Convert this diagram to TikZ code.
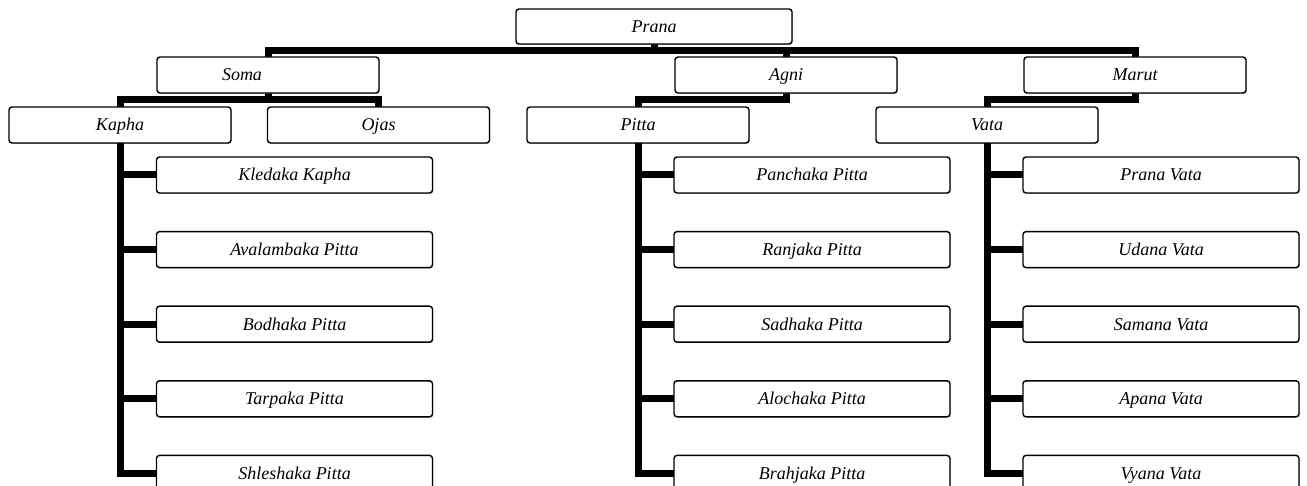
\documentclass[tikz,border=0pt]{standalone}
\usepackage{fontspec}
\setmainfont{Liberation Serif}
\usetikzlibrary{calc,shadows}
\begin{document}
\begin{tikzpicture}[x=1pt,y=-1pt,
                    box/.style={draw,rounded corners=3pt,line width=1.4pt,fill=white,
                                drop shadow={shadow xshift=0.8pt,shadow yshift=-0.8pt,fill=black!45,opacity=0.6},
                                inner sep=0pt,minimum height=36pt,text height=14pt,text depth=2pt,
                                font=\fontsize{18}{20}\selectfont\itshape},
                    main node/.style={box,minimum width=222pt},
                    leaf node/.style={box,minimum width=276pt},
                    link/.style={line width=7pt,line join=miter},
                    elbow/.style={to path={(\tikztostart) |- ($(\tikztostart)!0.5!(\tikztotarget)$) -| (\tikztotarget)}}
                   ]
  \useasboundingbox (0,0) rectangle (1307,486);
  \clip (0,0) rectangle (1307,486);

  % connectors first, boxes on top
  \coordinate (prana s) at (654,44);
  \coordinate (soma n) at (268,57);
  \coordinate (soma s) at (268,93);
  \coordinate (agni n) at (786,57);
  \coordinate (agni s) at (786,93);
  \coordinate (marut n) at (1135,57);
  \coordinate (marut s) at (1135,93);
  \coordinate (kapha n) at (120,107);
  \coordinate (kapha s) at (120,143);
  \coordinate (ojas n) at (378.5,107);
  \coordinate (pitta n) at (638,107);
  \coordinate (pitta s) at (638,143);
  \coordinate (vata n) at (987,107);
  \coordinate (vata s) at (987,143);

  \path[link]
   (prana s) edge [elbow] (soma n)
   (prana s) edge [elbow] (agni n)
   (prana s) edge [elbow] (marut n)
   (soma s) edge [elbow] (kapha n)
   (soma s) edge [elbow] (ojas n)
   (agni s) edge [elbow] (pitta n)
   (marut s) edge [elbow] (vata n);

  \node[box,minimum width=276pt,minimum height=35pt] (prana) at (654,26.5) {Prana};
  \node[main node] (soma) at (268,75) {Soma\hspace*{52pt}};
  \node[main node] (agni) at (786,75) {Agni};
  \node[main node] (marut) at (1135,75) {Marut};
  \node[main node] (kapha) at (120,125) {Kapha};
  \node[main node] (ojas) at (378.5,125) {Ojas};
  \node[main node] (pitta) at (638,125) {Pitta};
  \node[main node] (vata) at (987,125) {Vata};

  \foreach \name/\text [count=\i from 0] in {kledaka/Kledaka Kapha,avalambaka/Avalambaka Pitta,
      bodhaka/Bodhaka Pitta,tarpaka/Tarpaka Pitta,shleshaka/Shleshaka Pitta}
   {\draw[link] (kapha s) |- (294.5,175+74.6*\i);
    \node[leaf node] (\name) at (294.5,175+74.6*\i) {\text};}
  \foreach \name/\text [count=\i from 0] in {panchaka/Panchaka Pitta,ranjaka/Ranjaka Pitta,
      sadhaka/Sadhaka Pitta,alochaka/Alochaka Pitta,brahjaka/Brahjaka Pitta}
   {\draw[link] (pitta s) |- (812,175+74.6*\i);
    \node[leaf node] (\name) at (812,175+74.6*\i) {\text};}
  \foreach \name/\text [count=\i from 0] in {pranav/Prana Vata,udana/Udana Vata,
      samana/Samana Vata,apana/Apana Vata,vyana/Vyana Vata}
   {\draw[link] (vata s) |- (1161,175+74.6*\i);
    \node[leaf node] (\name) at (1161,175+74.6*\i) {\text};}
\end{tikzpicture}
\end{document}
